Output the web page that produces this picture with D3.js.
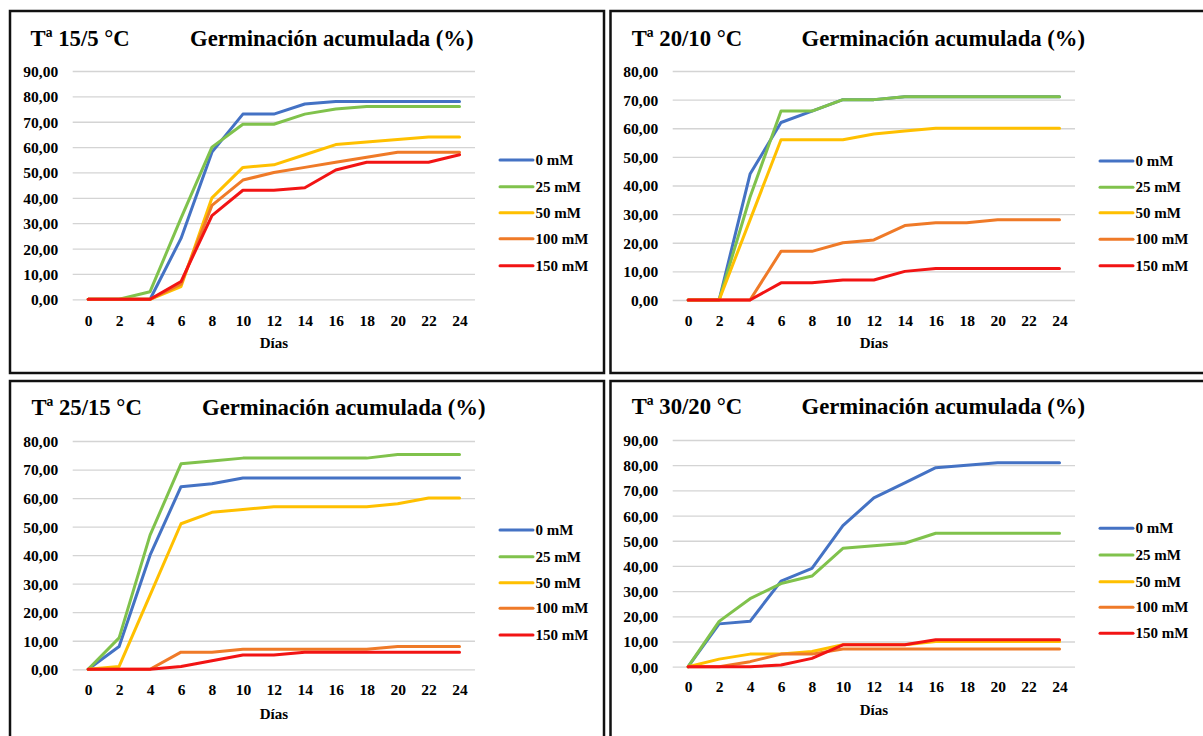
<!DOCTYPE html>
<html>
<head>
<meta charset="utf-8">
<script src="https://cdn.jsdelivr.net/npm/d3@7"></script>
<style>
  html, body { margin: 0; padding: 0; background: #fff; }
  svg { display: block; }
  svg text { font-family: "Liberation Serif", "DejaVu Serif", serif !important; font-weight: bold; fill: #000; }
</style>
</head>
<body>
<svg id="chart" width="1203" height="736"></svg>
<script>
// ---------------- DATA ----------------
const days = [0, 2, 4, 6, 8, 10, 12, 14, 16, 18, 20, 22, 24];
const seriesNames = ["0 mM", "25 mM", "50 mM", "100 mM", "150 mM"];
const panelTitles = ["Tª 15/5 °C", "Tª 20/10 °C", "Tª 25/15 °C", "Tª 30/20 °C"];
const chartTitle = "Germinación acumulada (%)";
const xAxisTitle = "Días";
const yTicks90 = [0, 10, 20, 30, 40, 50, 60, 70, 80, 90];
const yTicks80 = [0, 10, 20, 30, 40, 50, 60, 70, 80];

// T 15/5 °C
const t15_0mM   = [0, 0, 0, 24, 58, 73, 73, 77, 78, 78, 78, 78, 78];
const t15_25mM  = [0, 0, 3, 32, 60, 69, 69, 73, 75, 76, 76, 76, 76];
const t15_50mM  = [0, 0, 0, 5, 40, 52, 53, 57, 61, 62, 63, 64, 64];
const t15_100mM = [0, 0, 0, 6, 37, 47, 50, 52, 54, 56, 58, 58, 58];
const t15_150mM = [0, 0, 0, 7, 33, 43, 43, 44, 51, 54, 54, 54, 57];
// T 20/10 °C
const t20_0mM   = [0, 0, 44, 62, 66, 70, 70, 71, 71, 71, 71, 71, 71];
const t20_25mM  = [0, 0, 36, 66, 66, 70, 70, 71, 71, 71, 71, 71, 71];
const t20_50mM  = [0, 0, 28, 56, 56, 56, 58, 59, 60, 60, 60, 60, 60];
const t20_100mM = [0, 0, 0, 17, 17, 20, 21, 26, 27, 27, 28, 28, 28];
const t20_150mM = [0, 0, 0, 6, 6, 7, 7, 10, 11, 11, 11, 11, 11];
// T 25/15 °C
const t25_0mM   = [0, 8, 40, 64, 65, 67, 67, 67, 67, 67, 67, 67, 67];
const t25_25mM  = [0, 11, 47, 72, 73, 74, 74, 74, 74, 74, 75.3, 75.3, 75.3];
const t25_50mM  = [0, 1, 26, 51, 55, 56, 57, 57, 57, 57, 58, 60, 60];
const t25_100mM = [0, 0, 0, 6, 6, 7, 7, 7, 7, 7, 8, 8, 8];
const t25_150mM = [0, 0, 0, 1, 3, 5, 5, 6, 6, 6, 6, 6, 6];
// T 30/20 °C
const t30_0mM   = [0, 17, 18, 34, 39, 56, 67, 73, 79, 80, 81, 81, 81];
const t30_25mM  = [0, 18, 27, 33, 36, 47, 48, 49, 53, 53, 53, 53, 53];
const t30_50mM  = [0, 3, 5, 5, 6, 8.7, 8.7, 8.7, 10, 10, 10, 10, 10];
const t30_100mM = [0, 0, 2, 5, 5, 7, 7, 7, 7, 7, 7, 7, 7];
const t30_150mM = [0, 0, 0, 0.7, 3.3, 8.7, 8.7, 8.7, 10.7, 10.7, 10.7, 10.7, 10.7];

const panelSeries = [
  [t15_0mM, t15_25mM, t15_50mM, t15_100mM, t15_150mM],
  [t20_0mM, t20_25mM, t20_50mM, t20_100mM, t20_150mM],
  [t25_0mM, t25_25mM, t25_50mM, t25_100mM, t25_150mM],
  [t30_0mM, t30_25mM, t30_50mM, t30_100mM, t30_150mM]
];
const panelTicks = [yTicks90, yTicks80, yTicks80, yTicks90];

// ---------------- STYLE / LAYOUT ----------------
const colors = ["#4472C4", "#80C24C", "#FFC000", "#EF7A28", "#F21414"];
const FONT = "Liberation Serif, DejaVu Serif, serif";

const layouts = [
  { box: [10, 11, 604, 373],  plot: [72.7, 475], yr: [299.3, 71], t1x: 30.6, t2x: 190, ty: 46, xl: 326, xt: 348, lx: 500, ly: [160, 186.7, 212.7, 238.7, 265.7] },
  { box: [610.5, 11, 1210, 373], plot: [672.7, 1075], yr: [300, 71], t1x: 631.7, t2x: 801.5, ty: 46, xl: 326, xt: 348, lx: 1100, ly: [161, 187.3, 212.7, 239.3, 265.7] },
  { box: [10, 381, 604, 745], plot: [72.7, 475], yr: [669.3, 441], t1x: 31.4, t2x: 202, ty: 415, xl: 695, xt: 719, lx: 500, ly: [530, 556.7, 582.7, 608.3, 635] },
  { box: [610.5, 381, 1210, 745], plot: [672.7, 1075], yr: [666.7, 440], t1x: 631.7, t2x: 801.5, ty: 414, xl: 692, xt: 715, lx: 1100, ly: [528.3, 555, 581.7, 607.3, 633.3] }
];

const locale = d3.formatLocale({ decimal: ",", thousands: ".", grouping: [3], currency: ["", "€"] });
const fmt = locale.format(".2f");

const svg = d3.select("#chart");

layouts.forEach((L, p) => {
  const g = svg.append("g").attr("font-family", FONT).attr("font-weight", "bold");
  const ticks = panelTicks[p];
  const yMax = ticks[ticks.length - 1];

  // frame
  g.append("rect")
    .attr("x", L.box[0]).attr("y", L.box[1])
    .attr("width", L.box[2] - L.box[0]).attr("height", L.box[3] - L.box[1])
    .attr("fill", "none").attr("stroke", "#111").attr("stroke-width", 2.5);

  const x = d3.scalePoint().domain(days).range(L.plot).padding(0.5);
  const y = d3.scaleLinear().domain([0, yMax]).range(L.yr);

  // gridlines + y labels
  const yAxis = d3.axisLeft(y).tickValues(ticks).tickFormat(fmt)
    .tickSize(-(L.plot[1] - L.plot[0])).tickPadding(14.5);
  const ya = g.append("g").attr("transform", `translate(${L.plot[0]},0)`).call(yAxis)
    .attr("font-family", FONT).attr("font-size", 15.5);
  ya.select(".domain").remove();
  ya.selectAll(".tick line").attr("stroke", "#D4D4D4").attr("stroke-width", 1.3);
  ya.selectAll(".tick text").attr("fill", "#000").attr("dy", "0.35em");

  // x labels
  const xAxis = d3.axisBottom(x).tickSize(0).tickPadding(0);
  const xa = g.append("g").attr("transform", `translate(0,${L.xl})`).call(xAxis)
    .attr("font-family", FONT).attr("font-size", 15.5);
  xa.select(".domain").remove();
  xa.selectAll(".tick text").attr("fill", "#000").attr("dy", 0).attr("y", 0);

  // axis title
  g.append("text").attr("x", (L.plot[0] + L.plot[1]) / 2).attr("y", L.xt)
    .attr("text-anchor", "middle").attr("font-size", 15).text(xAxisTitle);

  // titles
  g.append("text").attr("x", L.t1x).attr("y", L.ty).attr("font-size", 22.7).text(panelTitles[p]);
  g.append("text").attr("x", L.t2x).attr("y", L.ty).attr("font-size", 22.7).text(chartTitle);

  // lines
  const line = d3.line().x((d, i) => x(days[i])).y(d => y(d));
  panelSeries[p].forEach((vals, s) => {
    g.append("path").datum(vals)
      .attr("d", line).attr("fill", "none")
      .attr("stroke", colors[s]).attr("stroke-width", 3)
      .attr("stroke-linejoin", "round").attr("stroke-linecap", "round");
  });

  // legend
  seriesNames.forEach((name, s) => {
    const ly = L.ly[s];
    g.append("line").attr("x1", L.lx).attr("x2", L.lx + 33).attr("y1", ly).attr("y2", ly)
      .attr("stroke", colors[s]).attr("stroke-width", 3).attr("stroke-linecap", "round");
    g.append("text").attr("x", L.lx + 35.5).attr("y", ly + 5).attr("font-size", 15).text(name);
  });
});
</script>
</body>
</html>
